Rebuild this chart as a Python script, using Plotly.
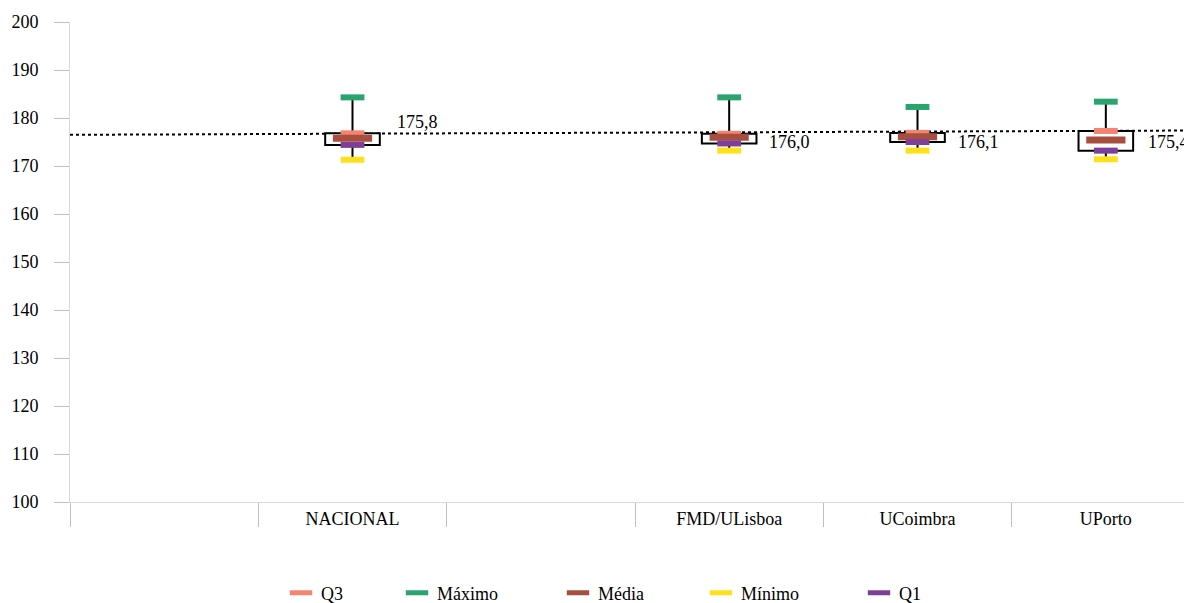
import plotly.graph_objects as go

# ---- data ----
categories = [" ", "NACIONAL", "  ", "FMD/ULisboa", "UCoimbra", "UPorto"]
groups = ["NACIONAL", "FMD/ULisboa", "UCoimbra", "UPorto"]
q1 = [174.4, 174.7, 175.0, 173.2]
q3 = [176.8, 176.7, 176.9, 177.3]
maximo = [184.3, 184.3, 182.3, 183.4]
minimo = [171.3, 173.2, 173.2, 171.4]
media = [175.8, 176.0, 176.1, 175.4]
trend = [176.5, 177.4]  # dotted trend line, left end / right end
legend_names = ["Q3", "Máximo", "Média", "Mínimo", "Q1"]

# ---- styles ----
FONT = "Liberation Serif, Times New Roman, serif"
colors = {"Q3": "#F4836F", "Máximo": "#2AA46F", "Média": "#A84E3E",
          "Mínimo": "#FFE01A", "Q1": "#7E3F98"}
marker_len = {"Q3": 17, "Máximo": 17, "Média": 28, "Mínimo": 17, "Q1": 17}
marker_thick = {"Q3": 6, "Máximo": 6, "Média": 7, "Mínimo": 6, "Q1": 6}
label_shift = [(42, 16), (38, -5), (38, -5), (40, -2)]
legend_marker_px = [301, 417, 578, 721, 879]  # page px

OFF = 8  # page body margin
L, R, T, B = 70 - OFF, 0, 22 - OFF, 603 - (502 - OFF)
W, H = 1192, 603
plot_w = W - L - R
plot_h = H - T - B

fig = go.Figure()

# boxes Q1..Q3
fig.add_trace(go.Bar(
    x=groups, y=[b - a for a, b in zip(q1, q3)], base=q1, width=0.29,
    marker=dict(color="white", line=dict(color="black", width=2)),
    showlegend=False, hoverinfo="skip"))

# whiskers
wx, wy = [], []
for g, a, b, lo, hi in zip(groups, q1, q3, minimo, maximo):
    wx += [g, g, None, g, g, None]
    wy += [b, hi, None, lo, a, None]
fig.add_trace(go.Scatter(x=wx, y=wy, mode="lines",
                         line=dict(color="black", width=2),
                         showlegend=False, hoverinfo="skip"))

series = {"Q3": q3, "Máximo": maximo, "Média": media, "Mínimo": minimo, "Q1": q1}
for i, name in enumerate(legend_names):
    fig.add_trace(go.Scatter(
        x=groups, y=series[name], mode="markers", name=name,
        legend="legend" if i == 0 else f"legend{i+1}",
        marker=dict(symbol="line-ew", size=marker_len[name],
                    color=colors[name],
                    line=dict(color=colors[name], width=marker_thick[name]))))

# labels for Média
for g, v, (dx, dy) in zip(groups, media, label_shift):
    fig.add_annotation(x=g, y=v, text=f"{v:.1f}".replace(".", ","),
                       showarrow=False, xanchor="left", yanchor="middle",
                       xshift=dx, yshift=dy,
                       font=dict(family=FONT, size=18, color="black"))

# dotted trend line
fig.add_shape(type="line", xref="paper", yref="y", x0=0, x1=1,
              y0=trend[0], y1=trend[1], layer="below",
              line=dict(color="black", width=2, dash="dot"))

legend_layouts = {}
for i, px in enumerate(legend_marker_px):
    key = "legend" if i == 0 else f"legend{i+1}"
    legend_layouts[key] = dict(
        x=(px - OFF - 20 - L) / plot_w, xanchor="left",
        y=-(593 - 502) / plot_h, yanchor="middle",
        orientation="h", bgcolor="rgba(0,0,0,0)",
        font=dict(family=FONT, size=18, color="black"))

fig.update_layout(
    width=W, height=H,
    margin=dict(l=L, r=R, t=T, b=B, pad=0, autoexpand=False),
    paper_bgcolor="white", plot_bgcolor="white",
    font=dict(family=FONT, size=18, color="black"),
    barmode="overlay",
    **legend_layouts,
    xaxis=dict(type="category", categoryorder="array", categoryarray=categories,
               range=[-0.5, 5.5], tickson="boundaries", ticks="outside",
               ticklen=24, tickcolor="#BFBFBF", showline=True,
               linecolor="#D9D9D9", linewidth=1, showgrid=False,
               zeroline=False, automargin=False,
               tickfont=dict(family=FONT, size=18)),
    yaxis=dict(range=[100, 200], dtick=10, ticks="outside", ticklen=15,
               tickcolor="#BFBFBF", showline=True, linecolor="#D9D9D9",
               linewidth=1, showgrid=False, zeroline=False, automargin=False,
               ticklabelstandoff=12, tickfont=dict(family=FONT, size=18)),
)

fig.write_html("out.html")
